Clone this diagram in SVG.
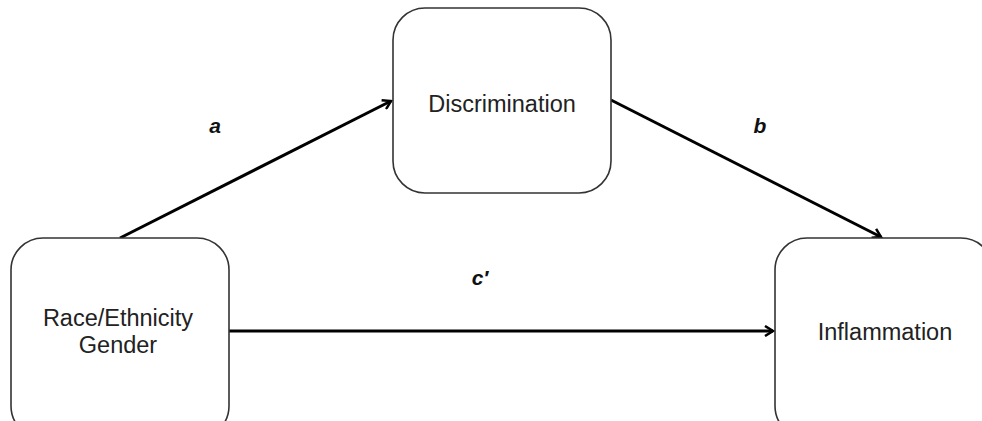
<svg xmlns="http://www.w3.org/2000/svg" width="982" height="421" viewBox="0 0 982 421">
<style>
.box{fill:#fff;stroke:#333;stroke-width:1.6}
.lbl{font-family:"Liberation Sans",Arial,sans-serif;font-size:23.5px;fill:#222;text-anchor:middle}
.path{font-family:"Liberation Sans",Arial,sans-serif;font-size:21px;font-weight:bold;font-style:italic;fill:#111;text-anchor:middle}
.edge{stroke:#000;stroke-width:3;fill:none;marker-end:url(#arr)}
</style>
<defs>
<marker id="arr" markerWidth="12" markerHeight="12" viewBox="0 0 12 12" refX="10" refY="6" orient="auto" markerUnits="userSpaceOnUse">
<path d="M2,1 L10,6 L2,11" fill="none" stroke="#000" stroke-width="2.5"/>
</marker>
</defs>
<rect width="982" height="421" fill="#fff"/>
<g id="connectors">
<line class="edge" x1="120" y1="238" x2="391" y2="101"/>
<line class="edge" x1="611" y1="100" x2="881" y2="237"/>
<line class="edge" x1="229" y1="331" x2="773" y2="331"/>
<text class="path" x="215" y="133">a</text>
<text class="path" x="760" y="133">b</text>
<text class="path" x="480" y="285">c′</text>
</g>
<g id="race">
<rect class="box" x="11" y="238" width="218" height="200" rx="32"/>
<text class="lbl" x="118" y="326">Race/Ethnicity</text>
<text class="lbl" x="118" y="353">Gender</text>
</g>
<g id="discrimination">
<rect class="box" x="393" y="8" width="218" height="185" rx="32"/>
<text class="lbl" x="502" y="112">Discrimination</text>
</g>
<g id="inflammation">
<rect class="box" x="775" y="238" width="218" height="200" rx="32"/>
<text class="lbl" x="885" y="340">Inflammation</text>
</g>
</svg>
